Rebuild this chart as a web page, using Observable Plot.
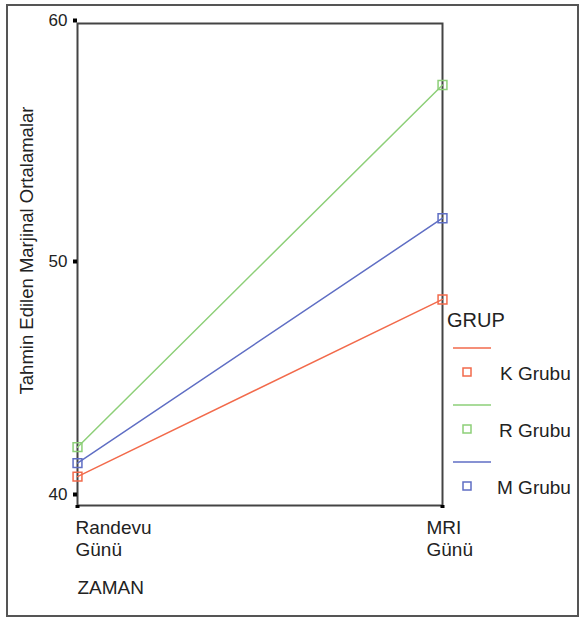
<!DOCTYPE html>
<html>
<head>
<meta charset="utf-8">
<script src="https://cdn.jsdelivr.net/npm/d3@7"></script>
<script src="https://cdn.jsdelivr.net/npm/@observablehq/plot@0.6"></script>
<style>
  html, body { margin: 0; padding: 0; background: #fff; }
  #page { position: relative; width: 584px; height: 620px; overflow: hidden; font-family: "Liberation Sans", Arial, sans-serif; }
  #border { position: absolute; left: 6px; top: 4px; width: 573px; height: 613px; box-sizing: border-box; border: 2px solid #555; }
  #chart { position: absolute; left: 0; top: 0; }
  #legend { position: absolute; left: 0; top: 0; }
</style>
</head>
<body>
<div id="page">
  <div id="border"></div>
  <div id="chart"></div>
  <svg id="legend" width="584" height="620"></svg>
</div>
<script>
// ---- data ----
const categories = ["Randevu Günü", "MRI Günü"];
const categoryLabels = ["Randevu\nGünü", "MRI\nGünü"];
const groups = ["K Grubu", "R Grubu", "M Grubu"];
const colors = ["#f26a4b", "#8dcf78", "#5f6ec4"];
const kValues = [41.2, 48.55];
const rValues = [42.42, 57.45];
const mValues = [41.76, 51.92];
const yTicks = [40, 50, 60];
const yLabel = "Tahmin Edilen Marjinal Ortalamalar";
const xLabel = "ZAMAN";
const legendTitle = "GRUP";

const seriesValues = [kValues, rValues, mValues];
const rows = [];
groups.forEach((g, gi) => categories.forEach((c, ci) => rows.push({group: g, zaman: c, value: seriesValues[gi][ci]})));

const font = "'Liberation Sans', Arial, sans-serif";

const chart = Plot.plot({
  width: 584,
  height: 620,
  marginLeft: 77,
  marginRight: 142,
  marginTop: 23,
  marginBottom: 115,
  style: {fontFamily: font, background: "transparent", color: "#222"},
  x: {type: "point", domain: categories, padding: 0, axis: null},
  y: {domain: [40, 60], axis: null},
  color: {domain: groups, range: colors},
  marks: [
    Plot.frame({stroke: "#444", strokeWidth: 2}),
    Plot.axisY({ticks: yTicks.filter(t => t !== 40), tickSize: 4, strokeWidth: 4, stroke: "#000", tickPadding: 6, fontSize: 17, dy: -3, label: null}),
    Plot.axisY({ticks: yTicks.filter(t => t === 40), tickSize: 4, strokeWidth: 4, stroke: "#000", tickPadding: 6, fontSize: 17, dy: -11, label: null}),
    Plot.tickX(categories, {x: d => d, y1: 40, y2: 40, marker: null, strokeWidth: 0}),
    Plot.axisX({ticks: categories, tickSize: 3, strokeWidth: 4, stroke: "#000", tickFormat: () => "", label: null}),
    Plot.text([categories[0]], {x: d => d, frameAnchor: "bottom", text: () => categoryLabels[0], textAnchor: "start", lineAnchor: "top", dx: -2, dy: 13, fontSize: 19, lineHeight: 1.15, fill: "#222"}),
    Plot.text([categories[1]], {x: d => d, frameAnchor: "bottom", text: () => categoryLabels[1], textAnchor: "start", lineAnchor: "top", dx: -16, dy: 13, fontSize: 19, lineHeight: 1.15, fill: "#222"}),
    Plot.text([xLabel], {frameAnchor: "bottom-left", textAnchor: "start", lineAnchor: "bottom", dx: 0, dy: 88, fontSize: 19, fill: "#222"}),
    Plot.text([yLabel], {frameAnchor: "left", rotate: -90, textAnchor: "middle", lineAnchor: "middle", dx: -50, dy: -14, fontSize: 18.5, fill: "#222"}),
    Plot.line(rows, {x: "zaman", y: "value", z: "group", stroke: "group", strokeWidth: 1.5}),
    Plot.dot(rows, {x: "zaman", y: "value", stroke: "group", symbol: "square", r: 5, strokeWidth: 1.5, fill: "none"})
  ]
});
document.getElementById("chart").appendChild(chart);

// ---- legend ----
const lg = d3.select("#legend");
lg.append("text").attr("x", 447).attr("y", 327).attr("font-size", 20).attr("font-family", font).attr("fill", "#222").text(legendTitle);
groups.forEach((g, i) => {
  const base = 348 + i * 57;
  lg.append("line").attr("x1", 453).attr("x2", 491).attr("y1", base).attr("y2", base).attr("stroke", colors[i]).attr("stroke-width", 1.5);
  lg.append("rect").attr("x", 463).attr("y", base + 20).attr("width", 8).attr("height", 8).attr("fill", "none").attr("stroke", colors[i]).attr("stroke-width", 1.5);
  lg.append("text").attr("x", [500, 499, 497][i]).attr("y", base + 32).attr("font-size", 19).attr("font-family", font).attr("fill", "#222").text(g);
});
</script>
</body>
</html>
